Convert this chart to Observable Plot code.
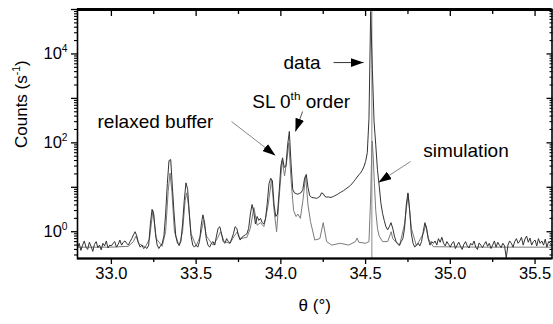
<!DOCTYPE html>
<html><head><meta charset="utf-8">
<script src="https://cdn.jsdelivr.net/npm/d3@7"></script>
<script src="https://cdn.jsdelivr.net/npm/@observablehq/plot@0.6"></script>
<style>
html,body{margin:0;padding:0;background:#fff;}
#chart{width:553px;height:324px;}
</style></head><body><div id="chart"></div>
<script>
// ---- data ----
const thetaStart = 32.80, thetaStep = 0.01;
const dataCounts = [
  0.42,0.55,0.38,0.5,0.62,0.45,0.4,0.58,0.47,0.36,
  0.52,0.6,0.44,0.5,0.39,0.55,0.48,0.62,0.43,0.5,
  0.48,0.55,0.6,0.45,0.52,0.65,0.5,0.58,0.62,0.55,
  0.5,0.6,0.7,0.85,1.0,0.8,0.55,0.45,0.5,0.42,
  0.45,0.42,0.5,1.5,3.2,2.5,0.9,0.5,0.42,0.48,
  0.55,0.8,2.5,12,40,42,10,2.5,0.8,0.55,
  0.5,0.6,1.5,5,12.6,9,2.5,0.8,0.5,0.45,
  0.5,0.45,0.6,1.4,2.4,1.6,0.7,0.5,0.45,0.55,
  0.6,0.5,0.8,1.2,1.3,0.9,0.6,0.55,0.7,0.6,
  0.55,0.7,0.9,1.3,1.2,0.8,0.65,0.75,0.8,0.85,
  0.9,1.2,2.5,4.1,2.8,1.5,2.2,1.8,2.0,1.6,
  1.5,2.0,4.5,12,16,14,4,2.2,2.5,8,
  30,46,28,30,90,180,35,9,7.5,7.2,
  7.0,7.3,7.6,9,16,19.5,10,6.5,6,5.8,
  5.8,5.6,5.9,6.2,7.5,7.2,6.2,6.0,6.1,5.9,
  6.0,6.2,6.5,6.8,7.2,7.6,8.0,8.4,9.0,9.6,
  10.2,11,12,13.5,15,17,19,21,24,29,
  38,60,350,90000,4500,300,90,25,11,4.5,
  2.6,1.8,1.3,1.1,1.3,1.6,1.2,0.8,0.6,0.55,
  0.5,0.6,0.7,1.2,4.0,7.5,3.0,0.9,0.55,0.45,
  0.5,0.55,0.48,0.6,1.0,1.6,1.2,0.7,0.5,0.6,
  0.55,0.62,0.5,0.7,0.58,0.75,0.55,0.48,0.6,0.52,
  0.45,0.55,0.6,0.42,0.5,0.58,0.47,0.4,0.52,0.6,
  0.48,0.43,0.55,0.5,0.62,0.45,0.4,0.56,0.5,0.44,
  0.52,0.6,0.47,0.55,0.42,0.5,0.62,0.45,0.58,0.5,
  0.44,0.55,0.48,0.26,0.5,0.62,0.55,0.45,0.6,0.7,
  0.55,0.62,0.75,0.5,0.68,0.8,0.58,0.72,0.5,0.6,
  0.65,0.48,0.7,0.55,0.62,0.5,0.68,0.45,0.6,0.55,
  0.5
];
const simTheta = [
  32.80,33.00,33.10,33.13,33.145,33.16,33.20,33.225,33.245,33.265,
  33.30,33.32,33.335,33.346,33.357,33.372,33.40,33.42,33.435,33.444,
  33.455,33.47,33.50,33.525,33.544,33.56,33.60,33.625,33.644,33.665,
  33.70,33.725,33.743,33.76,33.80,33.82,33.841,33.86,33.88,33.90,
  33.925,33.945,33.96,33.975,33.99,34.008,34.022,34.035,34.047,34.06,
  34.075,34.09,34.10,34.115,34.13,34.146,34.16,34.175,34.20,34.23,
  34.25,34.27,34.30,34.35,34.40,34.44,34.45,34.46,34.50,34.52,
  34.53,34.536,34.539,34.545,34.552,34.56,34.57,34.58,34.60,34.63,
  34.645,34.651,34.66,34.70,34.73,34.751,34.77,34.80,34.84,34.855,
  34.87,34.90,35.20,35.60
];
const simCounts = [
  0.45,0.45,0.47,0.6,0.8,0.55,0.45,0.7,3.0,0.7,
  0.47,1.0,8,21,8,1.0,0.48,1.0,5,7.5,
  4,0.9,0.48,0.8,1.8,0.8,0.5,0.7,1.0,0.6,
  0.55,0.8,1.0,0.7,0.75,1.2,3.5,1.4,1.6,1.3,
  4,15,3,1.0,6,40,18,40,100,15,
  3,2.2,2.5,2.0,5,18,4,1.7,0.65,0.7,
  1.6,0.6,0.5,0.55,0.5,0.6,0.72,0.58,0.55,0.6,
  6,60,110,50,12,3,1.2,0.8,0.6,0.6,
  0.85,1.0,0.7,0.48,1.5,7,1.2,0.48,0.9,1.4,
  0.7,0.46,0.45,0.45
];
const substrateTheta = [34.537];

// axes
const xDomain = [32.8, 35.6];
const yDomain = [0.25, 1e5];
const xMajorTicks = [33.0, 33.5, 34.0, 34.5, 35.0, 35.5];
const xMinorTicks = [33.25, 33.75, 34.25, 34.75, 35.25];
const yMajorTicks = [1, 10, 100, 1000, 10000, 100000];
const yTickLabels = {1: "10^0", 100: "10^2", 10000: "10^4"};
const yMinorTicks = [];
for (const dec of [0.1, 1, 10, 100, 1000, 10000]) for (const m of [2,3,4,5,6,7,8,9]) {
  const v = +(m * dec).toPrecision(3);
  if (v >= yDomain[0] && v <= yDomain[1]) yMinorTicks.push(v);
}

// annotations (data coordinates)
const labelTexts = ["data", "relaxed buffer", "SL 0^th^ order", "simulation"];
const labelTheta = [34.234, 32.918, 33.831, 34.840];
const labelCounts = [6400, 302, 851, 67.3];
const labelAnchor = ["end", "start", "start", "start"];
const arrowFrom = [[34.311, 6400], [33.709, 302], [34.128, 507], [34.765, 38]];
const arrowTo   = [[34.488, 6400], [33.968, 51.9], [34.086, 180], [34.576, 12.8]];
const arrowShaft = ["#333", "#888", "#555", "#888"];

const FONT = "'Liberation Sans', Arial, Helvetica, sans-serif";

const dataRows = dataCounts.map((c, i) => ({theta: +(thetaStart + i * thetaStep).toFixed(2), counts: c}));
const simRows = simTheta.map((t, i) => ({theta: t, counts: simCounts[i]}));
const labelRows = labelTexts.map((t, i) => ({text: t, theta: labelTheta[i], counts: labelCounts[i], anchor: labelAnchor[i]}));
const arrowRows = arrowFrom.map((f, i) => ({x1: f[0], y1: f[1], x2: arrowTo[i][0], y2: arrowTo[i][1], c: arrowShaft[i]}));

const plot = Plot.plot({
  width: 553, height: 324,
  marginLeft: 77, marginRight: 1.5, marginTop: 9, marginBottom: 66,
  style: {fontFamily: FONT, fontSize: "16.5px", color: "#000", background: "#fff", overflow: "visible"},
  x: {domain: xDomain},
  y: {type: "log", domain: yDomain},
  marks: [
    Plot.ruleX(substrateTheta, {stroke: "#8a8a8a", strokeWidth: 1}),
    Plot.line(simRows, {x: "theta", y: "counts", stroke: "#7a7a7a", strokeWidth: 1, clip: true}),
    Plot.line(dataRows, {x: "theta", y: "counts", stroke: "#333", strokeWidth: 1, clip: true}),
    Plot.axisX(xMajorTicks, {anchor: "bottom", tickSize: 6, tickPadding: 3, tickFormat: d => d.toFixed(1), fontSize: 16.5, label: null, strokeWidth: 1.3}),
    Plot.axisX(xMinorTicks, {anchor: "bottom", tickSize: 4, tickFormat: () => "", label: null, strokeWidth: 1.3}),
    Plot.axisX(xMajorTicks, {anchor: "top", tickSize: -6, tickFormat: () => "", label: null, strokeWidth: 1.3}),
    Plot.axisX(xMinorTicks, {anchor: "top", tickSize: -4, tickFormat: () => "", label: null, strokeWidth: 1.3}),
    Plot.axisY(yMajorTicks, {anchor: "left", tickSize: 6, tickPadding: 4, tickFormat: d => yTickLabels[d] ?? "", fontSize: 16.5, label: null, strokeWidth: 1.3}),
    Plot.axisY(yMinorTicks, {anchor: "left", tickSize: 3, tickFormat: () => "", label: null, strokeWidth: 1.1}),
    Plot.axisY(yMajorTicks, {anchor: "right", tickSize: -6, tickFormat: () => "", label: null, strokeWidth: 1.3}),
    Plot.axisY(yMinorTicks, {anchor: "right", tickSize: -3, tickFormat: () => "", label: null, strokeWidth: 1.1}),
    Plot.frame({stroke: "#000", strokeWidth: 1.6}),
    Plot.ruleY([yDomain[1]], {stroke: "#000", strokeWidth: 3}),
    Plot.ruleY([yDomain[0]], {stroke: "#000", strokeWidth: 2}),
    Plot.text(["Counts (s^-1^)"], {frameAnchor: "left", rotate: -90, dx: -56, dy: 14, fontSize: 17, fill: "#000"}),
    Plot.text(["θ (°)"], {frameAnchor: "bottom", dy: 52, fontSize: 17, fill: "#000"}),
    Plot.text(labelRows.filter(d => d.anchor === "end"), {x: "theta", y: "counts", text: "text", textAnchor: "end", fontSize: 19, fill: "#000"}),
    Plot.text(labelRows.filter(d => d.anchor === "start"), {x: "theta", y: "counts", text: "text", textAnchor: "start", fontSize: 19, fill: "#000"}),
    Plot.link(arrowRows, {x1: "x1", y1: "y1", x2: "x2", y2: "y2", stroke: "c", strokeWidth: 1})
  ]
});

document.getElementById("chart").appendChild(plot);

// superscripts: "base^sup^rest"
const svg = d3.select(plot.tagName.toLowerCase() === "svg" ? plot : plot.querySelector("svg"));
svg.selectAll("text").each(function () {
  const t = this.textContent;
  if (!t.includes("^")) return;
  const parts = t.split("^");
  const fs = parseFloat(getComputedStyle(this).fontSize) || 16;
  const el = d3.select(this);
  el.text(null);
  el.append("tspan").text(parts[0]);
  el.append("tspan").attr("dy", -fs * 0.42).attr("font-size", fs * 0.62).text(parts[1]);
  if (parts[2] != null && parts[2] !== "") el.append("tspan").attr("dy", fs * 0.42).text(parts[2]);
});

// filled arrowheads
const defs = svg.insert("defs", ":first-child");
defs.append("marker").attr("id", "headFill")
  .attr("viewBox", "-13 -4.5 13 9").attr("markerWidth", 13).attr("markerHeight", 9)
  .attr("markerUnits", "userSpaceOnUse").attr("orient", "auto").attr("refX", 0).attr("refY", 0)
  .append("path").attr("d", "M-13,-4.5L0,0L-13,4.5Z").attr("fill", "#000");
svg.selectAll("g[aria-label='link'] path").attr("marker-end", "url(#headFill)");
</script>
</body></html>
